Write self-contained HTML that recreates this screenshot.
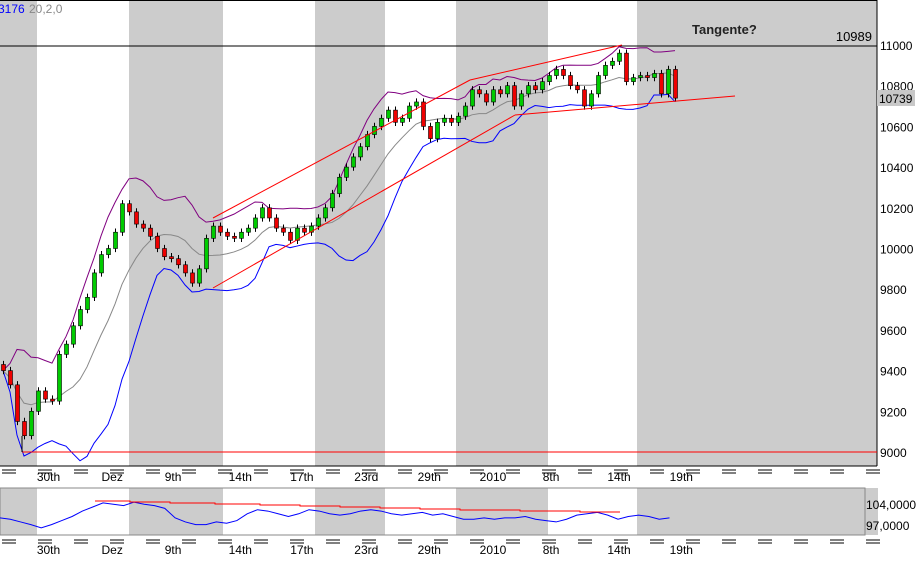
<!DOCTYPE html>
<html><head><meta charset="utf-8"><style>
body{margin:0;background:#fff;width:920px;height:559px;overflow:hidden;font-family:"Liberation Sans",sans-serif}
svg text{font-family:"Liberation Sans",sans-serif}
</style></head><body>
<svg id="c" width="920" height="559" xmlns="http://www.w3.org/2000/svg"></svg>
<script>
const closes=[9400,9330,9150,9080,9200,9300,9260,9250,9480,9530,9620,9700,9760,9880,9970,10000,10080,10220,10180,10120,10100,10060,10000,9960,9950,9920,9880,9830,9900,10050,10110,10080,10060,10050,10080,10100,10150,10200,10150,10100,10080,10040,10100,10080,10110,10150,10200,10270,10350,10400,10450,10500,10560,10600,10640,10680,10620,10640,10700,10720,10600,10540,10620,10640,10620,10650,10700,10780,10760,10720,10780,10760,10800,10700,10760,10800,10780,10820,10850,10880,10850,10800,10780,10700,10760,10850,10900,10920,10960,10820,10840,10850,10840,10860,10760,10880,10739];
const priceTicks=[11000,10800,10600,10400,10200,10000,9800,9600,9400,9200,9000];
const dateLabels=["30th","Dez","9th","14th","17th","23rd","29th","2010","8th","14th","19th"];
const dateIdx=[6.5,15.6,24.3,33.9,42.7,51.9,60.9,70,78.3,88,96.9];
const indVals=[100,99.5,98.5,97.5,96.3,97.5,99,100.5,102.5,104,105.5,105,104.5,105.8,105,104.5,103.5,100,98.5,97.5,97.5,98.5,98,99,101.5,103,102.5,101.5,100.5,101.5,103,102.5,101.5,101,101.5,102.5,103,102.5,101.5,101,101.5,102,101,101.5,100.5,99.5,99.5,100,99.5,100,100,100.5,99.5,99,98.5,99.5,101,101.5,102,101,99.5,100.5,101,100.5,99.5,100];
const ns='http://www.w3.org/2000/svg',svg=document.getElementById('c');
function el(t,a,p){const e=document.createElementNS(ns,t);for(const k in a)e.setAttribute(k,a[k]);(p||svg).appendChild(e);return e;}
const X=i=>3+i*7, Y=v=>45+(11000-v)*0.2035;
const IY=v=>507+(104-v)*(19/7);
const bands=[[0,37],[129,223],[315,385],[456,548],[637,877]];
bands.forEach(b=>{let r=el('rect',{x:b[0],y:0,width:b[1]-b[0],height:466,fill:'#cccccc'});
 let r2=el('rect',{x:b[0],y:488,width:Math.min(b[1],878)-b[0],height:47,fill:'#cccccc'});});
el('rect',{x:865,y:488,width:13,height:47,fill:'#cccccc'});
el('line',{x1:0,y1:0.5,x2:877,y2:0.5,stroke:'#000'});
el('line',{x1:877,y1:0,x2:877,y2:466,stroke:'#000'});
el('line',{x1:0,y1:466,x2:877,y2:466,stroke:'#000'});
el('line',{x1:0,y1:46,x2:877,y2:46,stroke:'#000'});
el('rect',{x:0,y:488,width:865,height:47,fill:'none',stroke:'#888'});
priceTicks.forEach(p=>{let t=el('text',{x:880,y:Y(p)+5,'font-size':12,fill:'#000'});t.textContent=p;});
el('rect',{x:877,y:90,width:38,height:16,fill:'#c8c8c8'});
let lt=el('text',{x:879,y:103,'font-size':12});lt.textContent='10739';
let t1=el('text',{x:872,y:41,'font-size':13,'text-anchor':'end'});t1.textContent='10989';
let t2=el('text',{x:692,y:34,'font-size':13,'font-weight':'bold',fill:'#222'});t2.textContent='Tangente?';
let t3=el('text',{x:-2,y:13,'font-size':12,fill:'#00f'});t3.textContent='3176';
let t4=el('text',{x:29,y:13,'font-size':12,fill:'#888'});t4.textContent='20,2,0';
[[470,481],[540,554]].forEach(([ly,ty])=>{
 for(let x=2;x<875;x+=36){el('line',{x1:x,y1:ly,x2:x+14,y2:ly,stroke:'#000'});el('line',{x1:x,y1:ly+3,x2:x+14,y2:ly+3,stroke:'#000'});}
 dateLabels.forEach((d,i)=>{let t=el('text',{x:X(dateIdx[i]),y:ty,'font-size':12,'text-anchor':'middle'});t.textContent=d;});
});
const up=[],mid=[],lo=[];const N=10;
closes.forEach((c,i)=>{const s=closes.slice(Math.max(0,i-N+1),i+1);const m=s.reduce((a,b)=>a+b,0)/s.length;const sd=Math.sqrt(s.reduce((a,b)=>a+(b-m)*(b-m),0)/s.length);mid.push([X(i),Y(m)]);up.push([X(i),Y(m+2*sd)]);lo.push([X(i),Y(m-2*sd)]);});
[[mid,'#888','bb-middle'],[up,'#800080','bb-upper'],[lo,'#0000ff','bb-lower']].forEach(([pts,col,n])=>{let p=el('polyline',{points:pts.map(q=>q.join(',')).join(' '),fill:'none',stroke:col,'stroke-width':1});});
closes.forEach((c,i)=>{const o=i?closes[i-1]:c+30;const hi=Math.max(o,c)+18,lw=Math.min(o,c)-18;
 el('line',{x1:X(i)+0.5,y1:Y(hi),x2:X(i)+0.5,y2:Y(lw),stroke:'#000'});
 let r=el('rect',{x:X(i)-1.5,y:Y(Math.max(o,c)),width:4,height:Math.max(1,Math.abs(Y(o)-Y(c))),fill:c>=o?'#00cc00':'#ee0000',stroke:'#000','stroke-width':0.6});
 });
const tl=[[213,218,470,80],[470,80,622,45],[213,288,515,115],[515,115,735,96],[22,452,877,452]];
tl.forEach(l=>{let e=el('line',{x1:l[0],y1:l[1],x2:l[2],y2:l[3],stroke:'#f00','stroke-width':1});});
el('line',{x1:22,y1:452,x2:22,y2:436,stroke:'#000'});
const ip=indVals.map((v,i)=>[i*10.3,IY(v)].join(',')).join(' ');
let il=el('polyline',{points:ip,fill:'none',stroke:'#0000ff'});
let rl=el('polyline',{points:'95,501 130,501 130,502 170,502 170,503 215,503 215,504 260,504 260,505 300,505 300,506 340,506 340,507 380,507 380,508 420,508 420,509 460,509 460,510 520,510 520,511 580,511 580,512 620,512',fill:'none',stroke:'#f00'});
let a=el('text',{x:866,y:509,'font-size':12});a.textContent='104,0000';
let b=el('text',{x:866,y:530,'font-size':12});b.textContent='97,0000';
</script>
</body></html>
